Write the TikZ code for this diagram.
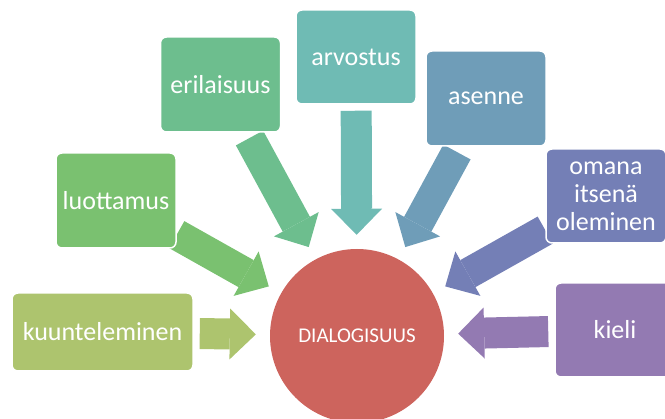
\documentclass[tikz,border=0pt]{standalone}
\usepackage{fontspec}
\setmainfont{Carlito}
\usetikzlibrary{arrows.meta,backgrounds}

\definecolor{kuuncol}{HTML}{ADC46E}
\definecolor{luotcol}{HTML}{7AC170}
\definecolor{erilcol}{HTML}{6DBE8E}
\definecolor{arvocol}{HTML}{6FBBB4}
\definecolor{asencol}{HTML}{6F9DB8}
\definecolor{omancol}{HTML}{747FB6}
\definecolor{kielcol}{HTML}{937AB2}
\definecolor{dialcol}{HTML}{CD645D}

\begin{document}
\begin{tikzpicture}[x=1pt, y=-1pt,
    idea/.style={draw=white, line width=1.5pt, rounded corners=6pt, minimum width=120pt, minimum height=95pt, inner sep=2pt, text=white, align=center, font=\fontsize{26}{28}\selectfont},
    hub/.style={circle, fill=dialcol, minimum size=174pt, inner sep=0pt, text=white, font=\fontsize{21}{24}\selectfont},
    feed/.style={line width=31pt, -{Triangle[length=26pt, width=51pt, line width=0pt]}, shorten <=6pt, shorten >=14pt},
]
\useasboundingbox (0,0) rectangle (665,419);

\node[hub] (dia) at (357,336) {DIALOGISUUS};

\node[idea, fill=kuuncol, minimum width=181pt, minimum height=78pt] (kuun) at (102.5,332) {kuunteleminen};
\node[idea, fill=luotcol] (luot) at (116,200.5) {luottamus};
\node[idea, fill=erilcol] (eril) at (220.5,84.5) {erilaisuus};
\node[idea, fill=arvocol, minimum height=94pt] (arvo) at (356,57) {arvostus};
\node[idea, fill=asencol] (asen) at (486,98.5) {asenne};
\node[idea, fill=omancol, minimum height=94pt] (oman) at (606,196) {omana\\itsenä\\oleminen};
\node[idea, fill=kielcol, minimum height=94pt] (kiel) at (615,330) {kieli};

\begin{scope}[on background layer]
\draw[feed, kuuncol] (kuun) -- (dia);
\draw[feed, luotcol, shorten <=0pt] (luot) -- (dia);
\draw[feed, erilcol] (eril) -- (dia);
\draw[feed, arvocol] (arvo) -- (dia);
\draw[feed, asencol] (asen) -- (dia);
\draw[feed, omancol, shorten <=0pt] (oman) -- (dia);
\draw[feed, kielcol] (kiel) -- (dia);
\end{scope}
\end{tikzpicture}
\end{document}
